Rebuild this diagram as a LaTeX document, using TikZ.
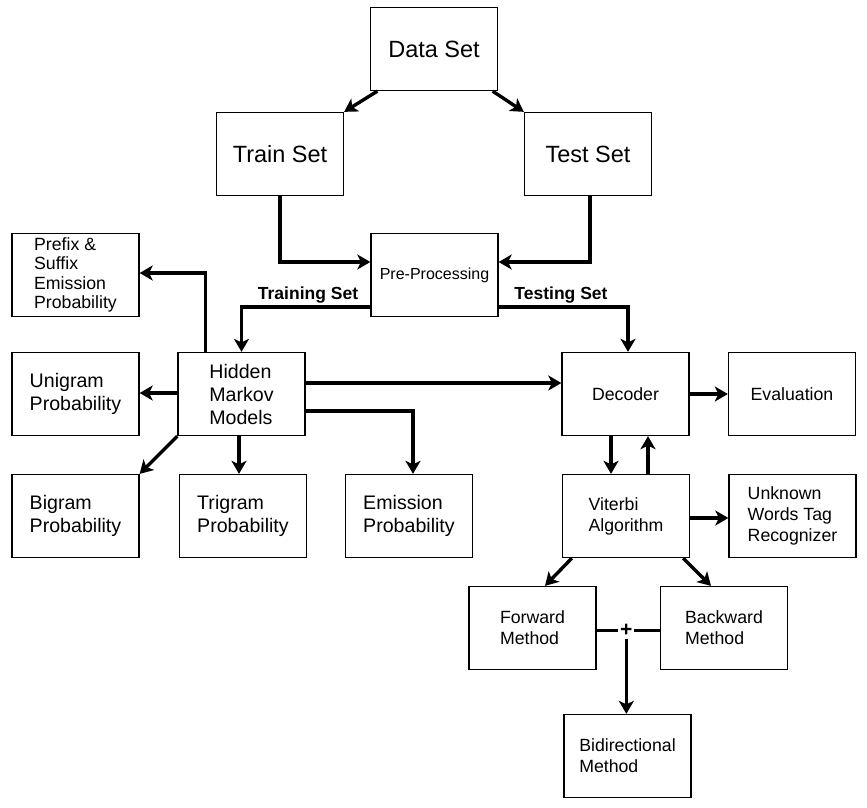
\documentclass[tikz,border=0pt]{standalone}
\usepackage{fontspec}
\setmainfont{Liberation Sans}
\usetikzlibrary{arrows.meta,calc}
\begin{document}
\begin{tikzpicture}[x=1pt,y=-1pt,
  box/.style={draw,line width=1.3pt,minimum width=127pt,minimum height=83pt,inner sep=0pt,align=left},
  big/.style={font=\fontsize{23.5}{27}\selectfont},
  mid/.style={font=\fontsize{19.6}{23}\selectfont},
  sml/.style={font=\fontsize{17.7}{21}\selectfont},
  tiny/.style={font=\fontsize{16}{19}\selectfont},
  conn/.style={line width=3.4pt,-{Stealth[length=13pt,width=15pt,inset=3.5pt]}},
  plain/.style={line width=3.4pt},
  lbl/.style={font=\bfseries\fontsize{17.5}{20}\selectfont,inner sep=0pt}]
\useasboundingbox (0,0) rectangle (867,807);
\node[box,big] (Data) at (434,49) {Data Set};
\node[box,big] (Train) at (280,154) {Train Set};
\node[box,big] (Test) at (588,154) {Test Set};
\node[box,tiny] (Pre) at (434.5,275) {Pre-Processing};
\node[box,sml,font=\fontsize{17.7}{19.5}\selectfont] (Prefix) at (75.5,275) {Prefix \&\\Suffix\\Emission\\Probability};
\node[box,mid] (Unigram) at (75.5,394) {Unigram\\Probability};
\node[box,mid] (HMM) at (241.5,394) {Hidden\\Markov\\Models};
\node[box,sml] (Decoder) at (625.5,394) {Decoder};
\node[box,sml] (Eval) at (792,394) {Evaluation};
\node[box,mid] (Bigram) at (75.5,516) {Bigram\\Probability};
\node[box,mid] (Trigram) at (243,516) {Trigram\\Probability};
\node[box,mid] (Emission) at (409,516) {Emission\\Probability};
\node[box,sml] (Viterbi) at (626,516) {Viterbi\\Algorithm};
\node[box,sml] (Unknown) at (792.5,516) {Unknown\\Words Tag\\Recognizer};
\node[box,sml] (Forward) at (532.5,628) {Forward\\Method};
\node[box,sml] (Backward) at (724,628) {Backward\\Method};
\node[box,sml] (Bidir) at (627.5,756) {Bidirectional\\Method};

\draw[conn] ([xshift=7.5pt]Data.south west) -- (Train.north east);
\draw[conn] ([xshift=-5.5pt]Data.south east) -- (Test.north west);
\draw[conn] (Train.south) |- ([yshift=13pt]Pre.west);
\draw[conn] ([xshift=2pt]Test.south) |- ([yshift=13pt]Pre.east);
\draw[conn] ([yshift=-32pt]Pre.west) -| (HMM.north);
\draw[conn] ([yshift=-32pt]Pre.east) -| ([xshift=2.5pt]Decoder.north);
\node[lbl] (trainlbl) at (308,295) {Training Set};
\node[lbl] (testlbl) at (561,295) {Testing Set};
\draw[conn] ([xshift=-36pt]HMM.north) |- ([yshift=2pt]Prefix.east);
\draw[conn] ([yshift=1pt]HMM.west) -- ([yshift=1pt]Unigram.east);
\draw[conn] (HMM.south west) -- (Bigram.north east);
\draw[conn] ([xshift=-2.5pt]HMM.south) -- ([xshift=-4pt]Trigram.north);
\draw[conn] ([yshift=-17pt]HMM.east) -| ([xshift=4pt]Emission.north);
\draw[conn] ([yshift=11pt]HMM.east) -- ([yshift=11pt]Decoder.west);
\draw[conn] (Decoder.east) -- (Eval.west);
\draw[conn] ([xshift=-14.5pt]Decoder.south) -- ([xshift=-15pt]Viterbi.north);
\draw[conn] ([xshift=22pt]Viterbi.north) -- ([xshift=22.5pt]Decoder.south);
\draw[conn] ([yshift=-2pt]Viterbi.east) -- ([yshift=-2pt]Unknown.west);
\draw[conn] ([xshift=10pt]Viterbi.south west) -- ([xshift=12.5pt]Forward.north);
\draw[conn] ([xshift=-7pt]Viterbi.south east) -- ([xshift=-13pt]Backward.north);
\coordinate (join) at ($([yshift=-2.5pt]Forward.east)!0.47!([yshift=-2.5pt]Backward.west)$);
\draw[plain] ([yshift=-2.5pt]Forward.east) -- ([yshift=-2.5pt]Backward.west);
\node[font=\bfseries\fontsize{21}{22}\selectfont,fill=white,inner sep=1.8pt] (plus) at (join) {+};
\draw[conn] (plus.south) -- (plus.south |- Bidir.north);
\end{tikzpicture}
\end{document}
